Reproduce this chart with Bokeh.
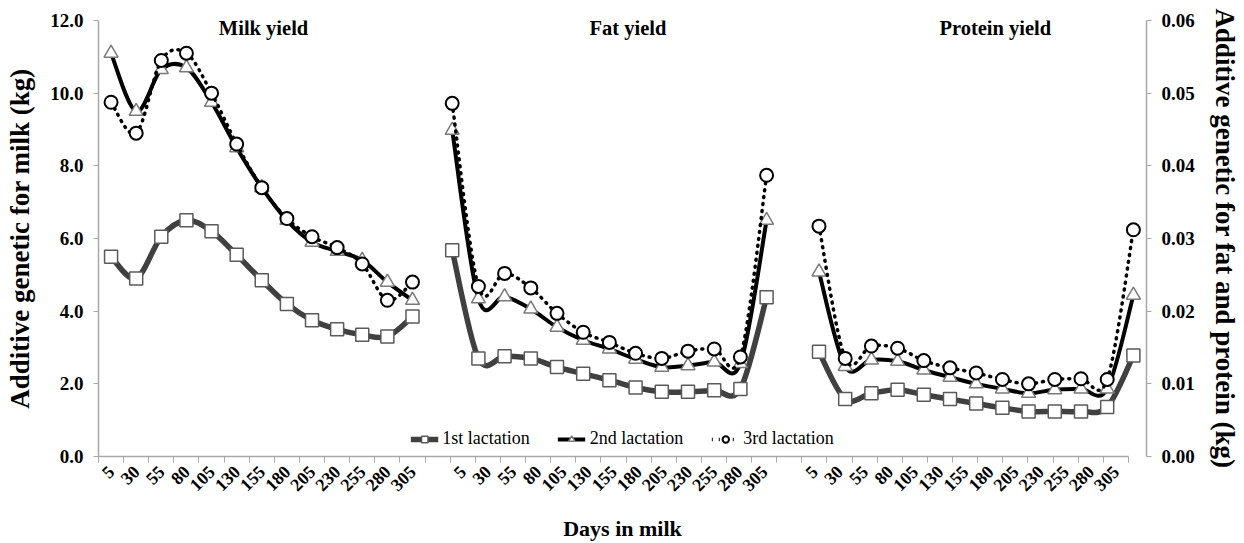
import math
from bokeh.plotting import figure
from bokeh.models import (Range1d, LinearAxis, FixedTicker, NumeralTickFormatter,
                          Legend, LegendItem, Label, Grid)
from bokeh.embed import file_html
from bokeh.resources import INLINE

# ---------------- data ----------------
days = [5, 30, 55, 80, 105, 130, 155, 180, 205, 230, 255, 280, 305]
panel_titles = ["Milk yield", "Fat yield", "Protein yield"]
series_names = ["1st lactation", "2nd lactation", "3rd lactation"]

milk_1 = [5.5, 4.9, 6.05, 6.5, 6.2, 5.55, 4.85, 4.2, 3.75, 3.5, 3.35, 3.3, 3.85]
milk_2 = [11.1, 9.5, 10.65, 10.7, 9.75, 8.5, 7.4, 6.5, 5.9, 5.65, 5.4, 4.8, 4.3]
milk_3 = [9.75, 8.9, 10.9, 11.1, 10.0, 8.6, 7.4, 6.55, 6.05, 5.75, 5.3, 4.3, 4.8]

fat_1 = [0.0284, 0.0135, 0.0138, 0.0135, 0.0123, 0.0114, 0.0105, 0.0095, 0.0089, 0.0089, 0.0091, 0.0093, 0.0219]
fat_2 = [0.0449, 0.0217, 0.0220, 0.0203, 0.0178, 0.0160, 0.0148, 0.0134, 0.0123, 0.0125, 0.0130, 0.0128, 0.0325]
fat_3 = [0.0486, 0.0234, 0.0252, 0.0232, 0.0197, 0.0171, 0.0157, 0.0142, 0.0135, 0.0145, 0.0148, 0.0137, 0.0387]

prot_1 = [0.0144, 0.0079, 0.0087, 0.0092, 0.0085, 0.0079, 0.0073, 0.0067, 0.0062, 0.0062, 0.0062, 0.0068, 0.0139]
prot_2 = [0.0254, 0.0124, 0.0133, 0.0131, 0.0119, 0.0109, 0.0100, 0.0093, 0.0087, 0.0092, 0.0093, 0.0093, 0.0222]
prot_3 = [0.0317, 0.0135, 0.0152, 0.0149, 0.0132, 0.0122, 0.0115, 0.0106, 0.0100, 0.0106, 0.0107, 0.0106, 0.0312]

milk_ticks = [0, 2, 4, 6, 8, 10, 12]
fp_ticks = [0.0, 0.01, 0.02, 0.03, 0.04, 0.05, 0.06]

y_title_left = "Additive genetic for milk (kg)"
y_title_right = "Additive genetic for fat and protein (kg)"
x_title = "Days in milk"

# ---------------- category layout ----------------
n = len(days)
# primary category axis: milk 0..12, gap, fat 14..26, gap, protein 28..40
label_pos = [g * (n + 1) + i for g in range(3) for i in range(n)]
label_txt = [str(d) for g in range(3) for d in days]
boundaries = [k - 0.5 for k in range(3 * n + 3)]
milk_x = [i for i in range(n)]
# secondary category axis (40 slots): fat 13..25, protein 27..39
fat_x = [n + i for i in range(n)]
prot_x = [2 * n + 1 + i for i in range(n)]

SERIF = "Liberation Serif"
GREY = "#a8a8a8"

p = figure(width=1244, height=543,
           x_range=Range1d(-0.5, 41.22), y_range=Range1d(0, 12),
           x_axis_location=None, y_axis_location=None,
           output_backend="svg", toolbar_location=None,
           min_border_left=98, min_border_right=98,
           min_border_top=20, min_border_bottom=87)
p.extra_x_ranges = {"sec": Range1d(-0.5, 39.5)}
p.extra_y_ranges = {"sec": Range1d(0, 0.06)}
p.outline_line_color = None
p.background_fill_color = "white"
p.border_fill_color = "white"
p.center = [c for c in p.center if not isinstance(c, Grid)]

# x axis
xaxis = LinearAxis(ticker=FixedTicker(ticks=label_pos, minor_ticks=boundaries),
                   bounds=(-0.5, 3 * n + 1.5))
xaxis.major_label_overrides = {pos: t for pos, t in zip(label_pos, label_txt)}
xaxis.major_label_orientation = math.pi / 4
xaxis.major_tick_out = 0
xaxis.major_tick_in = 0
xaxis.minor_tick_out = 6
xaxis.minor_tick_in = 0
xaxis.minor_tick_line_color = GREY
xaxis.axis_line_color = GREY
xaxis.axis_line_width = 1.5
xaxis.major_label_text_font = SERIF
xaxis.major_label_text_font_style = "bold"
xaxis.major_label_text_font_size = "18px"
xaxis.major_label_text_color = "black"
xaxis.major_label_standoff = 6
xaxis.axis_label = x_title
xaxis.axis_label_text_font = SERIF
xaxis.axis_label_text_font_style = "bold"
xaxis.axis_label_text_font_size = "22px"
xaxis.axis_label_text_color = "black"
xaxis.axis_label_standoff = 16
p.add_layout(xaxis, "below")

def style_y(ax, fmt, label):
    ax.formatter = NumeralTickFormatter(format=fmt)
    ax.major_tick_out = 5
    ax.major_tick_in = 0
    ax.minor_tick_out = 0
    ax.minor_tick_in = 0
    ax.major_tick_line_color = GREY
    ax.axis_line_color = GREY
    ax.axis_line_width = 1.5
    ax.major_label_text_font = SERIF
    ax.major_label_text_font_style = "bold"
    ax.major_label_text_font_size = "19px"
    ax.major_label_text_color = "black"
    ax.major_label_standoff = 10
    ax.axis_label = label
    ax.axis_label_text_font = SERIF
    ax.axis_label_text_font_style = "bold"
    ax.axis_label_text_font_size = "27px"
    ax.axis_label_text_color = "black"
    ax.axis_label_standoff = 12

yl = LinearAxis(ticker=FixedTicker(ticks=milk_ticks))
style_y(yl, "0.0", y_title_left)
p.add_layout(yl, "left")

yr = LinearAxis(y_range_name="sec", ticker=FixedTicker(ticks=fp_ticks))
style_y(yr, "0.00", y_title_right)
p.add_layout(yr, "right")

styles = [
    dict(line=dict(line_color="#404040", line_width=5.5),
         mark=dict(marker="square", size=13, fill_color="white", line_color="#5a5a5a", line_width=1.5)),
    dict(line=dict(line_color="black", line_width=4),
         mark=dict(marker="triangle", size=14, fill_color="white", line_color="#7a7a7a", line_width=1.5)),
    dict(line=dict(line_color="black", line_width=3.5, line_dash="1 6"),
         mark=dict(marker="circle", size=13, fill_color="white", line_color="black", line_width=2)),
]

def smooth_segments(xs, ys):
    """Bezier control points of a smoothed (Catmull-Rom style) curve through the data."""
    m = len(xs)
    seg = dict(x0=[], y0=[], x1=[], y1=[], cx0=[], cy0=[], cx1=[], cy1=[])
    for i in range(m - 1):
        a = max(i - 1, 0)
        b = min(i + 2, m - 1)
        seg["x0"].append(xs[i]); seg["y0"].append(ys[i])
        seg["x1"].append(xs[i + 1]); seg["y1"].append(ys[i + 1])
        seg["cx0"].append(xs[i] + (xs[i + 1] - xs[a]) / 6.0)
        seg["cy0"].append(ys[i] + (ys[i + 1] - ys[a]) / 6.0)
        seg["cx1"].append(xs[i + 1] - (xs[b] - xs[i]) / 6.0)
        seg["cy1"].append(ys[i + 1] - (ys[b] - ys[i]) / 6.0)
    return seg

groups = [
    (milk_x, [milk_1, milk_2, milk_3], "default", "default"),
    (fat_x, [fat_1, fat_2, fat_3], "sec", "sec"),
    (prot_x, [prot_1, prot_2, prot_3], "sec", "sec"),
]

legend_items = []
for gi, (xs, ys_list, xr, yr_name) in enumerate(groups):
    for si, ys in enumerate(ys_list):
        st = styles[si]
        seg = smooth_segments(xs, ys)
        p.bezier(x0=seg["x0"], y0=seg["y0"], x1=seg["x1"], y1=seg["y1"],
                 cx0=seg["cx0"], cy0=seg["cy0"], cx1=seg["cx1"], cy1=seg["cy1"],
                 x_range_name=xr, y_range_name=yr_name, line_cap="round", **st["line"])
        mr = p.scatter(xs, ys, x_range_name=xr, y_range_name=yr_name, **st["mark"])
        if gi == 0:
            # one-point line: draws nothing in the plot, only supplies the legend line sample
            lr = p.line(xs[:1], ys[:1], x_range_name=xr, y_range_name=yr_name, **st["line"])
            legend_items.append(LegendItem(label=series_names[si], renderers=[lr, mr]))

legend = Legend(items=legend_items,
                orientation="horizontal", location="bottom_center",
                label_text_font=SERIF, label_text_font_size="18px", label_text_color="black",
                glyph_width=28, glyph_height=16, label_standoff=4, spacing=28,
                padding=4, margin=7, background_fill_alpha=0, border_line_color=None)
p.add_layout(legend)

# panel titles
title_x = [6.07, 20.58, 35.2]
for tx, t in zip(title_x, panel_titles):
    p.add_layout(Label(x=tx, y=11.8, text=t, text_align="center", text_baseline="middle",
                       text_font=SERIF, text_font_style="bold", text_font_size="20.5px",
                       text_color="black"))

open("out.html", "w").write(file_html(p, INLINE))
